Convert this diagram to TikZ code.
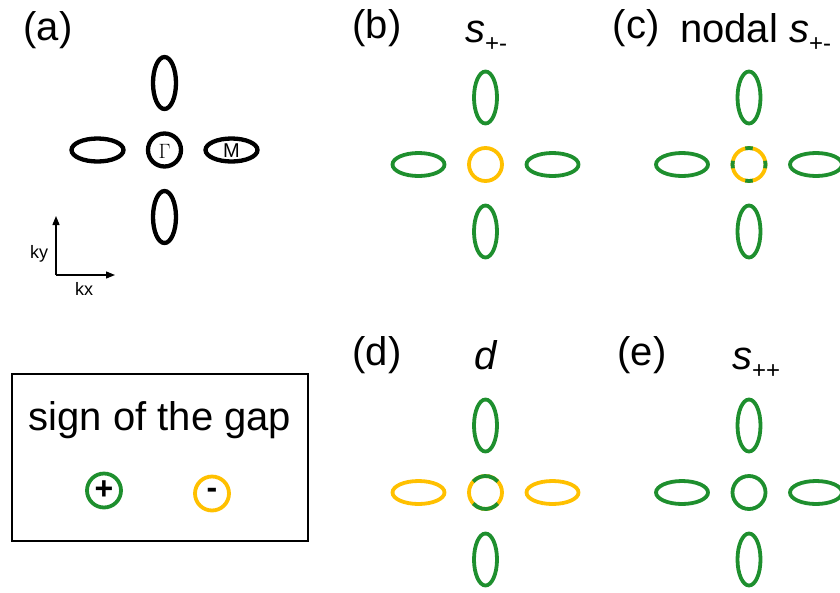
\documentclass[tikz,border=0pt]{standalone}
\usepackage{fontspec}
\setmainfont{Liberation Sans}
\usetikzlibrary{arrows.meta}
\definecolor{gr}{RGB}{30,143,46}
\definecolor{yl}{RGB}{255,192,0}
\tikzset{
  lbl/.style={font=\fontsize{40}{40}\selectfont, inner sep=0pt},
  fsline/.style={line width=3.8pt},
  blk/.style={line width=4.3pt, black},
  axis/.style={line width=1.3pt, -{Triangle[length=9pt,width=7pt]}},
}
% #1 cx, #2 cy, #3 style of vertical lobes, #4 style of horizontal lobes
\newcommand\lobes[4]{%
  \draw[#3] (#1,#2-67) ellipse [x radius=11.5, y radius=26];
  \draw[#3] (#1,#2+67) ellipse [x radius=11.5, y radius=26];
  \draw[#4] (#1-67,#2) ellipse [x radius=26, y radius=11.5];
  \draw[#4] (#1+67,#2) ellipse [x radius=26, y radius=11.5];
}
\begin{document}
\begin{tikzpicture}[x=1pt,y=-1pt]
\useasboundingbox (0,0) rectangle (840,592);
\clip (0,0) rectangle (840,592);

% (a)
\node[lbl] (la) at (48,30) {(a)};
\lobes{164.5}{150}{blk}{blk}
\draw[blk] (164.5,150) circle [radius=16.5];
\node[font=\fontsize{20}{20}\selectfont] (gam) at (164.5,151) {$\Gamma$};
\node[font=\fontsize{20}{20}\selectfont] (mm) at (231.5,151) {M};
\coordinate (o) at (56,275);
\coordinate (ky) at (56,216);
\coordinate (kx) at (115,275);
\draw[axis] (o) -- (ky);
\draw[axis] (o) -- (kx);
\node[font=\fontsize{18}{18}\selectfont, inner sep=0pt] (kyl) at (39,254) {ky};
\node[font=\fontsize{18}{18}\selectfont, inner sep=0pt] (kxl) at (84,289) {kx};

% (b)
\node[lbl] (lb) at (377,28) {(b)};
\node[lbl, anchor=base west] (tb) at (465,42) {\textit{s}\raisebox{-9pt}{\fontsize{24}{24}\selectfont +-}};
\lobes{485.5}{164.5}{fsline,gr}{fsline,gr}
\draw[fsline,yl] (485.5,164.5) circle [radius=16.5];

% (c)
\node[lbl] (lc) at (636,28) {(c)};
\node[lbl, anchor=base west] (tc) at (680,42) {nodal \textit{s}\raisebox{-9pt}{\fontsize{24}{24}\selectfont +-}};
\lobes{749}{164.5}{fsline,gr}{fsline,gr}
\draw[fsline,yl] (749,164.5) circle [radius=16.5];
\foreach \a in {0,90,180,270}
  \draw[fsline,gr] ([shift={(\a-13:16.5)}]749,164.5) arc [start angle=\a-13, end angle=\a+13, radius=16.5];

% (d)
\node[lbl] (ld) at (377,355) {(d)};
\node[lbl, anchor=base west] (td) at (474,369) {\textit{d}};
\lobes{485.5}{492.5}{fsline,gr}{fsline,yl}
\draw[fsline,yl] (485.5,492.5) circle [radius=16.5];
\draw[fsline,gr] ([shift={(42:16.5)}]485.5,492.5) arc [start angle=42, end angle=138, radius=16.5];
\draw[fsline,gr] ([shift={(222:16.5)}]485.5,492.5) arc [start angle=222, end angle=318, radius=16.5];

% (e)
\node[lbl] (le) at (642,355) {(e)};
\node[lbl, anchor=base west] (te) at (732,369) {\textit{s}\raisebox{-9pt}{\fontsize{24}{24}\selectfont ++}};
\lobes{749}{492.5}{fsline,gr}{fsline,gr}
\draw[fsline,gr] (749,492.5) circle [radius=16.5];

% legend
\node[draw, line width=2pt, minimum width=296pt, minimum height=167pt, inner sep=0pt] (box) at (160,457.5) {};
\node[lbl] (lt) at (160,420) {sign of the gap};
\node[circle, draw=gr, line width=3.8pt, minimum size=34pt, inner sep=0pt, font=\fontsize{32}{32}\selectfont\bfseries] (plus) at (104,490.5) {+};
\node[circle, draw=yl, line width=3.8pt, minimum size=34pt, inner sep=0pt, font=\fontsize{32}{32}\selectfont\bfseries] (minus) at (212,493.5) {-};
\end{tikzpicture}
\end{document}
